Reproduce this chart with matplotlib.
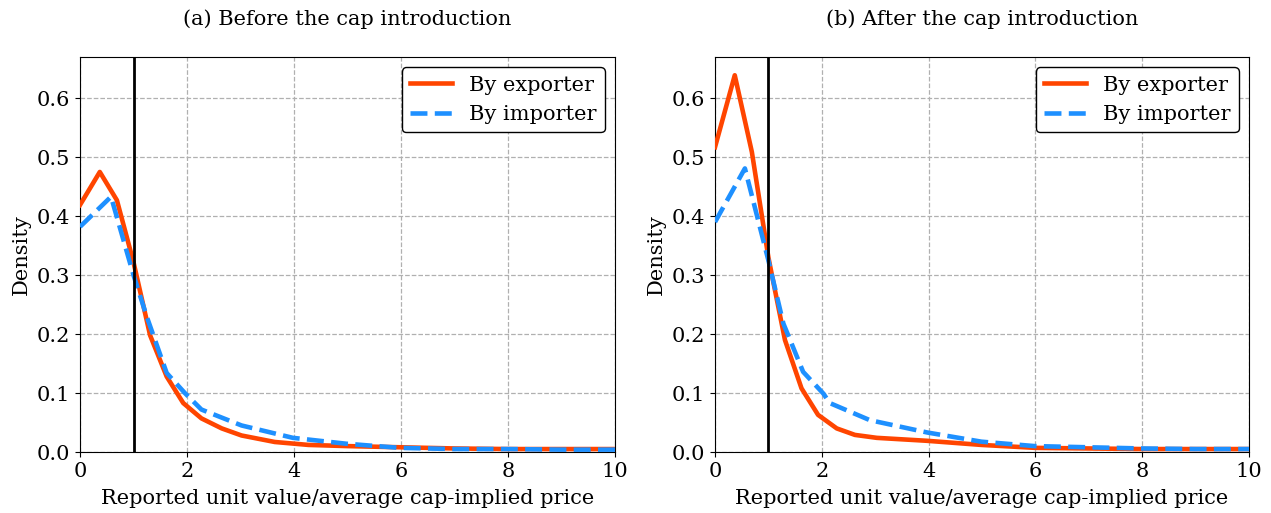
import matplotlib
matplotlib.use("Agg")
import matplotlib.pyplot as plt

# Panel (a): before the cap
a_exp_x = [0.0, 0.37, 0.69, 1.0, 1.31, 1.62, 1.93, 2.27, 2.65, 3.02, 3.64, 4.27, 5.0, 6.0, 7.0, 8.0, 9.0, 10.0]
a_exp_y = [0.419, 0.475, 0.427, 0.322, 0.198, 0.128, 0.083, 0.057, 0.040, 0.028, 0.017, 0.012, 0.010, 0.008, 0.006, 0.005, 0.005, 0.005]
a_imp_x = [0.0, 0.58, 1.0, 1.25, 1.62, 1.96, 2.27, 3.02, 3.98, 4.98, 5.98, 7.0, 8.0, 9.0, 10.0]
a_imp_y = [0.382, 0.433, 0.300, 0.229, 0.134, 0.100, 0.072, 0.045, 0.024, 0.014, 0.007, 0.005, 0.005, 0.004, 0.004]

# Panel (b): after the cap
b_exp_x = [0.0, 0.37, 0.69, 1.0, 1.31, 1.62, 1.93, 2.28, 2.62, 3.03, 3.97, 4.99, 6.0, 7.0, 8.0, 9.0, 10.0]
b_exp_y = [0.517, 0.639, 0.509, 0.330, 0.190, 0.108, 0.063, 0.040, 0.029, 0.024, 0.019, 0.012, 0.007, 0.006, 0.005, 0.005, 0.005]
b_imp_x = [0.0, 0.56, 1.0, 1.28, 1.65, 2.03, 2.15, 2.9, 3.98, 4.99, 5.99, 7.0, 8.0, 9.0, 10.0]
b_imp_y = [0.390, 0.481, 0.325, 0.218, 0.136, 0.099, 0.083, 0.054, 0.033, 0.0175, 0.010, 0.008, 0.006, 0.005, 0.005]

titles = ["(a) Before the cap introduction", "(b) After the cap introduction"]
xlabel = "Reported unit value/average cap-implied price"
ylabel = "Density"
labels = ["By exporter", "By importer"]
cap_line = 1.0

plt.rcParams['font.family'] = ['DejaVu Serif']

fig = plt.figure(figsize=(12.71, 5.13), dpi=100)
W, H = 1271, 513
ax1 = fig.add_axes([80 / W, 1 - 452 / H, 535 / W, 395 / H])
ax2 = fig.add_axes([715 / W, 1 - 452 / H, 534 / W, 395 / H])

data = [(a_exp_x, a_exp_y, a_imp_x, a_imp_y), (b_exp_x, b_exp_y, b_imp_x, b_imp_y)]
for ax, (ex, ey, ix, iy), t in zip([ax1, ax2], data, titles):
    ax.plot(ex, ey, color='#FF4500', lw=3.3, label=labels[0], zorder=3)
    ax.plot(ix, iy, color='#1E90FF', lw=3.3, ls='--', label=labels[1], zorder=3)
    ax.axvline(cap_line, color='black', lw=2, zorder=4)
    ax.set_xlim(0, 10)
    ax.set_ylim(0, 0.67)
    ax.set_xticks([0, 2, 4, 6, 8, 10])
    ax.set_yticks([0.0, 0.1, 0.2, 0.3, 0.4, 0.5, 0.6])
    ax.grid(True, ls='--', color='#b0b0b0', lw=0.9)
    ax.set_axisbelow(True)
    ax.tick_params(labelsize=15)
    ax.set_xlabel(xlabel, fontsize=15, labelpad=6)
    ax.set_ylabel(ylabel, fontsize=15)
    ax.set_title(t, fontsize=15, pad=23)
    leg = ax.legend(loc='upper right', fontsize=15, framealpha=1, edgecolor='black', fancybox=True)
    leg.get_frame().set_linewidth(1.0)

fig.savefig("out.png", dpi=100)
